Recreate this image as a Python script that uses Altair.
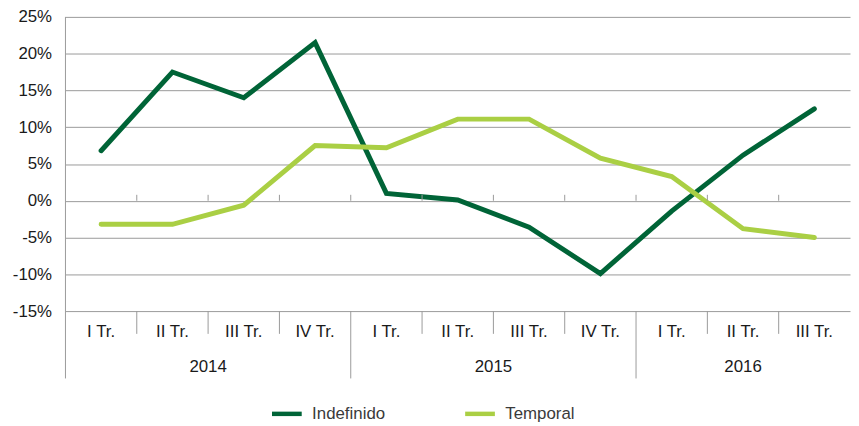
import altair as alt
import pandas as pd

quarters = ["I Tr.", "II Tr.", "III Tr.", "IV Tr.",
            "I Tr.", "II Tr.", "III Tr.", "IV Tr.",
            "I Tr.", "II Tr.", "III Tr."]
years = ["2014"] * 4 + ["2015"] * 4 + ["2016"] * 3
indefinido = [6.8, 17.5, 14.0, 21.5, 1.0, 0.1, -3.6, -9.9, -1.4, 6.2, 12.5]
temporal = [-3.2, -3.2, -0.6, 7.5, 7.2, 11.1, 11.1, 5.8, 3.3, -3.8, -5.0]
series_names = ["Indefinido", "Temporal"]
series_colors = ["#006437", "#AACF44"]
y_ticks = [-15, -10, -5, 0, 5, 10, 15, 20, 25]

Y_MIN, Y_MAX = -15, 25
H = 297
PX = (Y_MAX - Y_MIN) / H  # data units per pixel

idx = list(range(len(quarters)))
long = pd.DataFrame({
    "idx": idx * 2,
    "value": indefinido + temporal,
    "serie": [series_names[0]] * len(idx) + [series_names[1]] * len(idx),
})
cats = pd.DataFrame({"idx": idx, "quarter": quarters, "year": years,
                     "ty": Y_MIN - 21 * PX})
year_centers = cats.groupby("year", as_index=False)["idx"].mean()
year_centers["ty"] = Y_MIN - 56 * PX

bounds = [i + 0.5 for i in idx[:-1]]
year_b = [3.5, 7.5]
seps = pd.DataFrame({
    "b": [-0.5] + bounds,
    "y1": [Y_MAX] + [Y_MIN] * len(bounds),
    "y2": [Y_MIN - 68 * PX] + [Y_MIN - (68 if b in year_b else 23) * PX for b in bounds],
})
zero_ticks = pd.DataFrame({"b": bounds, "y1": [0] * len(bounds), "y2": [6 * PX] * len(bounds)})

xscale = alt.Scale(domain=[-0.5, len(idx) - 0.5], nice=False, zero=False)
yscale = alt.Scale(domain=[Y_MIN, Y_MAX], nice=False)
FONT = "Liberation Sans"
GRAY = "#9a9a9a"
TXT = "#1a1a1a"
FS = 17

yaxis = alt.Axis(values=y_ticks, labelExpr="datum.value + '%'", title=None,
                 grid=True, gridColor=GRAY, gridWidth=1, domain=False, ticks=False,
                 labelPadding=14, labelFontSize=FS, labelFont=FONT, labelColor=TXT)

lines = alt.Chart(long).mark_line(strokeWidth=5, strokeCap="round").encode(
    x=alt.X("idx:Q", scale=xscale, axis=None),
    y=alt.Y("value:Q", scale=yscale, axis=yaxis),
    color=alt.Color("serie:N", scale=alt.Scale(domain=series_names, range=series_colors),
                    legend=alt.Legend(title=None, orient="none", legendX=206, legendY=383,
                                      direction="horizontal", symbolType="stroke",
                                      symbolSize=900, symbolStrokeWidth=4.5, labelFontSize=FS,
                                      labelFont=FONT, labelColor="#3a3a3a", labelOffset=8,
                                      columnPadding=71, padding=0)),
)

sep_rules = alt.Chart(seps).mark_rule(color=GRAY, strokeWidth=1).encode(
    x=alt.X("b:Q", scale=xscale, axis=None),
    y=alt.Y("y1:Q", scale=yscale, axis=yaxis), y2="y2:Q")
zero_rules = alt.Chart(zero_ticks).mark_rule(color=GRAY, strokeWidth=1).encode(
    x=alt.X("b:Q", scale=xscale, axis=None),
    y=alt.Y("y1:Q", scale=yscale, axis=yaxis), y2="y2:Q")
q_labels = alt.Chart(cats).mark_text(fontSize=FS, font=FONT, color=TXT, baseline="middle").encode(
    x=alt.X("idx:Q", scale=xscale, axis=None),
    y=alt.Y("ty:Q", scale=yscale, axis=yaxis), text="quarter:N")
yr_labels = alt.Chart(year_centers).mark_text(fontSize=FS, font=FONT, color=TXT, baseline="middle").encode(
    x=alt.X("idx:Q", scale=xscale, axis=None),
    y=alt.Y("ty:Q", scale=yscale, axis=yaxis), text="year:N")

chart = alt.layer(lines, zero_rules, sep_rules, q_labels, yr_labels).properties(
    width=792, height=H,
    padding={"left": 58, "top": 7, "right": 1, "bottom": 110},
    autosize=alt.AutoSizeParams(type="none"),
).configure_view(stroke=None)

chart.save("out.html", embed_options={"renderer": "svg", "actions": False})
